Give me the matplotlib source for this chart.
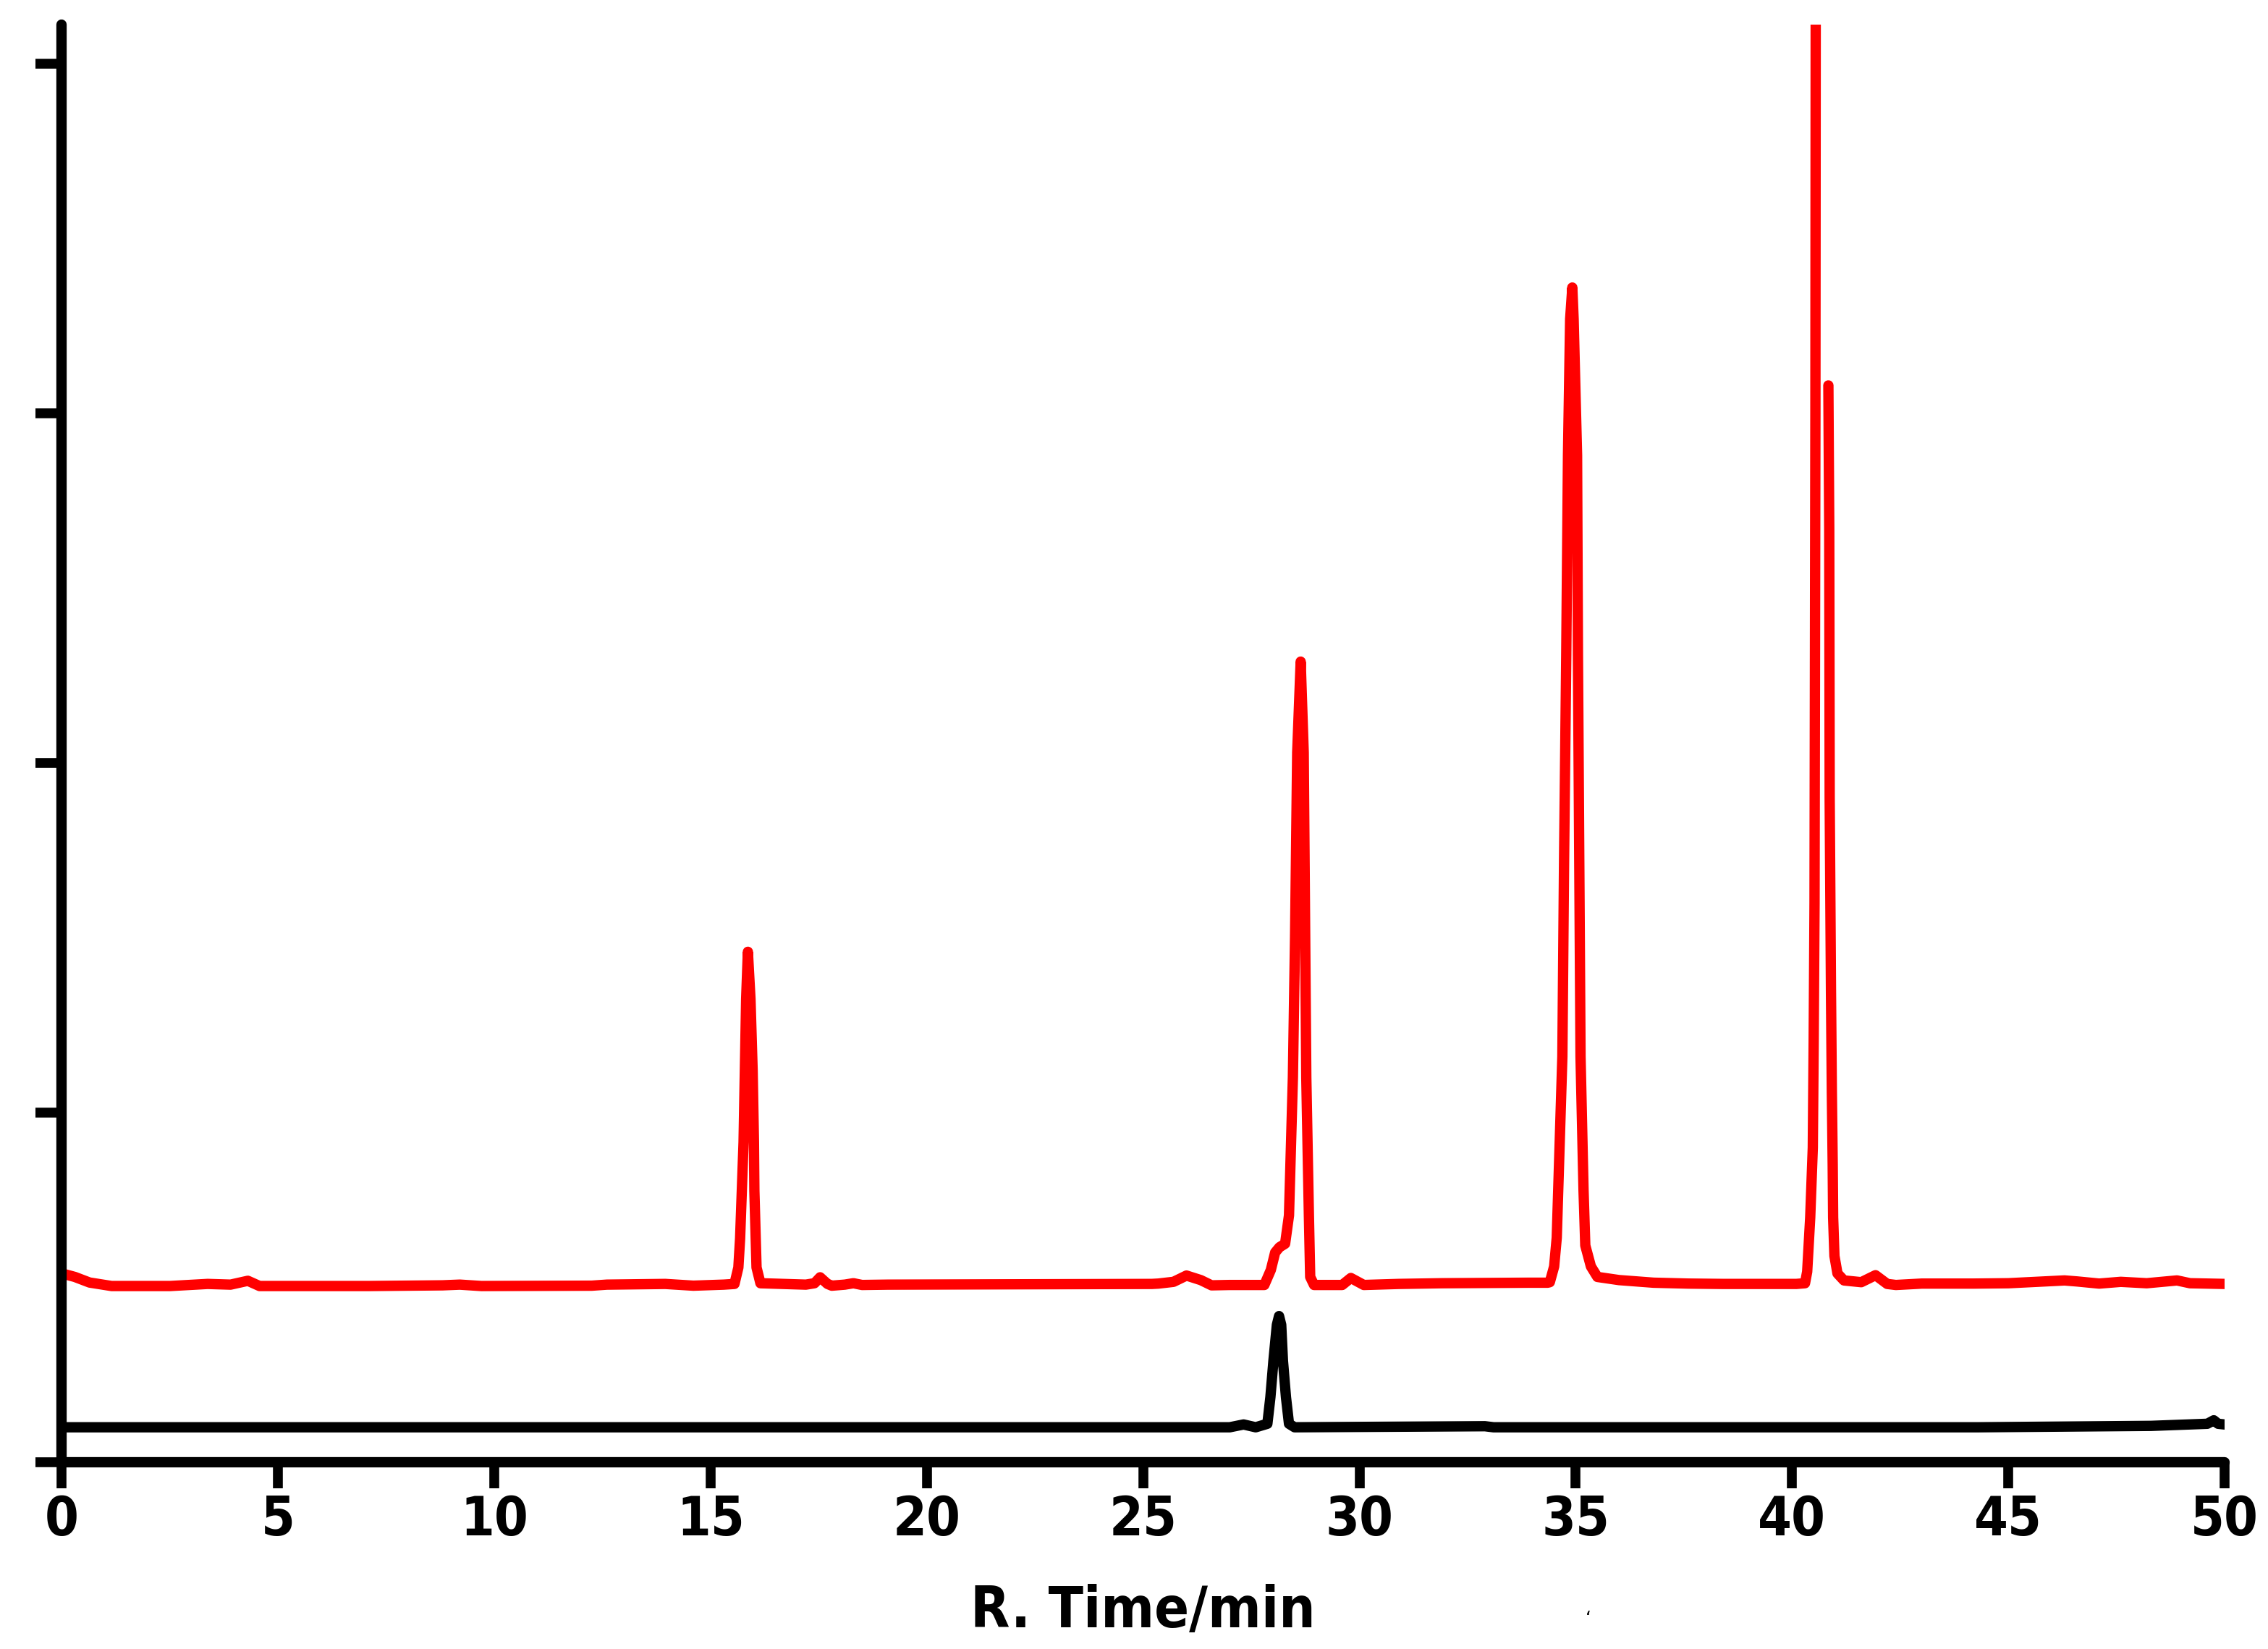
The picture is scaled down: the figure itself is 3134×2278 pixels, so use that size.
"""
Chromatogram: two HPLC traces (red sample, black reference), R. Time 0-50 min.
Values read off the reference picture; y in tick units (ticks carry no labels).
"""

import os

import numpy as np
import matplotlib
matplotlib.use("Agg")
import matplotlib.pyplot as plt
from matplotlib import font_manager as fm


# ── Data ──────────────────────────────────────────────────────────────────────

red_time = [
    0.00, 0.30, 0.64, 1.15, 2.50, 3.37, 3.90, 4.30, 4.57, 7.10, 8.80, 9.20,
    9.70, 12.25, 12.60, 13.95, 14.60, 15.30, 15.55,
    15.64, 15.68, 15.72, 15.76, 15.79, 15.82, 15.86, 15.92, 15.97, 16.00,
    16.01, 16.04, 16.06, 16.15,
    17.20, 17.40, 17.53, 17.70, 17.80, 18.10, 18.30, 18.50, 19.10, 25.20,
    25.35, 25.70, 26.00, 26.33, 26.58, 26.99, 27.80,
    27.95, 28.05, 28.15, 28.28, 28.37, 28.46, 28.51, 28.56, 28.64, 28.71,
    28.74, 28.77, 28.83, 28.86, 28.95,
    29.60, 29.80, 30.10, 30.90, 31.90, 33.90, 34.35, 34.40,
    34.50, 34.56, 34.69, 34.73, 34.78, 34.82, 34.87, 34.92, 34.95, 35.03,
    35.05, 35.08, 35.11, 35.18, 35.22, 35.35, 35.50, 36.00, 36.80, 37.60,
    38.40, 40.10, 40.30,
    40.35, 40.42, 40.48, 40.50, 40.52, 40.54, 40.55,
    np.nan,
    40.84, 40.86, 40.87, 40.89, 40.90, 40.92, 40.94, 40.95, 40.98, 41.05,
    41.20, 41.60, 41.93, 42.20, 42.40, 43.00, 44.20, 45.00, 46.30, 46.60,
    47.10, 47.60, 48.20, 48.90, 49.20, 50.00,
]
red_signal = [
    0.540, 0.530, 0.514, 0.504, 0.504, 0.510, 0.508, 0.519, 0.504, 0.504, 0.506, 0.508,
    0.504, 0.505, 0.508, 0.510, 0.505, 0.508, 0.510,
    0.557, 0.640, 0.776, 0.915, 1.120, 1.325, 1.460, 1.325, 1.120, 0.915,
    0.776, 0.640, 0.557, 0.512,
    0.508, 0.512, 0.529, 0.510, 0.505, 0.508, 0.512, 0.507, 0.508, 0.510,
    0.511, 0.516, 0.534, 0.521, 0.506, 0.507, 0.507,
    0.550, 0.600, 0.615, 0.625, 0.706, 1.100, 1.500, 2.030, 2.290, 2.030,
    1.560, 1.100, 0.706, 0.530, 0.507,
    0.507, 0.527, 0.507, 0.510, 0.512, 0.5135, 0.5135, 0.515,
    0.560, 0.642, 1.160, 1.730, 2.310, 2.880, 3.270, 3.360, 3.270, 2.880,
    2.310, 1.730, 1.160, 0.776, 0.620, 0.560, 0.530, 0.521, 0.5135, 0.511,
    0.510, 0.510, 0.512,
    0.545, 0.700, 0.900, 1.200, 1.600, 3.000, 4.600,
    np.nan,
    3.080, 2.670, 1.900, 1.550, 1.350, 1.060, 0.850, 0.700, 0.590, 0.540,
    0.520, 0.515, 0.535, 0.510, 0.507, 0.511, 0.511, 0.512, 0.520, 0.517,
    0.511, 0.516, 0.512, 0.520, 0.512, 0.510,
]

black_time = [
    0.00, 7.50, 18.60, 27.00, 27.32, 27.60, 27.87, 27.94, 28.01, 28.09,
    28.14, 28.19, 28.23, 28.30, 28.37, 28.50, 32.90, 33.10, 44.30, 48.30,
    49.60, 49.75, 49.85, 50.00,
]
black_signal = [
    0.100, 0.100, 0.100, 0.100, 0.108, 0.100, 0.110, 0.186, 0.290, 0.393,
    0.418, 0.393, 0.290, 0.186, 0.110, 0.100, 0.103, 0.100, 0.100, 0.104,
    0.110, 0.120, 0.110, 0.108,
]

x_ticks = [0, 5, 10, 15, 20, 25, 30, 35, 40, 45, 50]
y_ticks = [0, 1, 2, 3, 4]
x_label = "R. Time/min"


# ── Font: a bold condensed face if one is installed ───────────────────────────

def condensed_bold():
    wanted = ["liberationsansnarrow-bold.", "dejavusanscondensed-bold.",
              "robotocondensed-bold.", "notosans-condensedbold.",
              "opensans-condensedbold.", "opensans_condensed-bold."]
    files = {os.path.basename(f.fname).lower(): f.fname
             for f in fm.fontManager.ttflist}
    for w in wanted:
        for base, path in files.items():
            if base.startswith(w):
                return fm.FontProperties(fname=path)
    for base, path in files.items():
        if (("condensed" in base or "narrow" in base) and "bold" in base
                and not any(s in base for s in ("italic", "oblique", "semi",
                                                "extra", "ultra"))):
            return fm.FontProperties(fname=path)
    return fm.FontProperties(family="Liberation Sans", weight="bold")


# ── Plot ──────────────────────────────────────────────────────────────────────

fig = plt.figure(figsize=(15.67, 11.39), dpi=200)
ax = fig.add_axes([0.02728, 0.11326, 0.95358, 0.87181])

LW = 5.15   # ~14 px at 200 dpi, same as the axis lines

ax.plot(black_time, black_signal, color="#000000", linewidth=LW,
        solid_capstyle="round", solid_joinstyle="round")
ax.plot(red_time, red_signal, color="#ff0000", linewidth=LW,
        solid_capstyle="round", solid_joinstyle="round")

ax.set_xlim(0, 50)
ax.set_ylim(0, 4.112)

for side in ("top", "right"):
    ax.spines[side].set_visible(False)
for side in ("left", "bottom"):
    ax.spines[side].set_linewidth(LW)
    ax.spines[side].set_capstyle("round")

ax.set_xticks(x_ticks)
ax.set_yticks(y_ticks)
ax.set_yticklabels([])
ax.tick_params(axis="both", direction="out", length=13, width=4.9, color="black")
ax.tick_params(axis="x", pad=3.0)

fp_tick = condensed_bold()
fp_tick.set_size(27.0)
for lab in ax.get_xticklabels():
    lab.set_fontproperties(fp_tick)

fp_label = fp_tick.copy()
fp_label.set_size(31.5)
ax.set_xlabel(x_label, fontproperties=fp_label, va="baseline")
ax.xaxis.set_label_coords(0.5, -0.1148)

# keep the axis title roughly as wide as the original (~458 px)
fig.canvas.draw()
w = ax.xaxis.label.get_window_extent().width
if w > 470:
    fp_label.set_size(31.5 * max(460.0 / w, 0.9))
    ax.xaxis.label.set_fontproperties(fp_label)

# stray mark below the axis title in the original picture
fig.text(0.7005, 0.0185, "\u2018", fontsize=9, ha="center", va="center")

fig.savefig("out.png", dpi=200)
